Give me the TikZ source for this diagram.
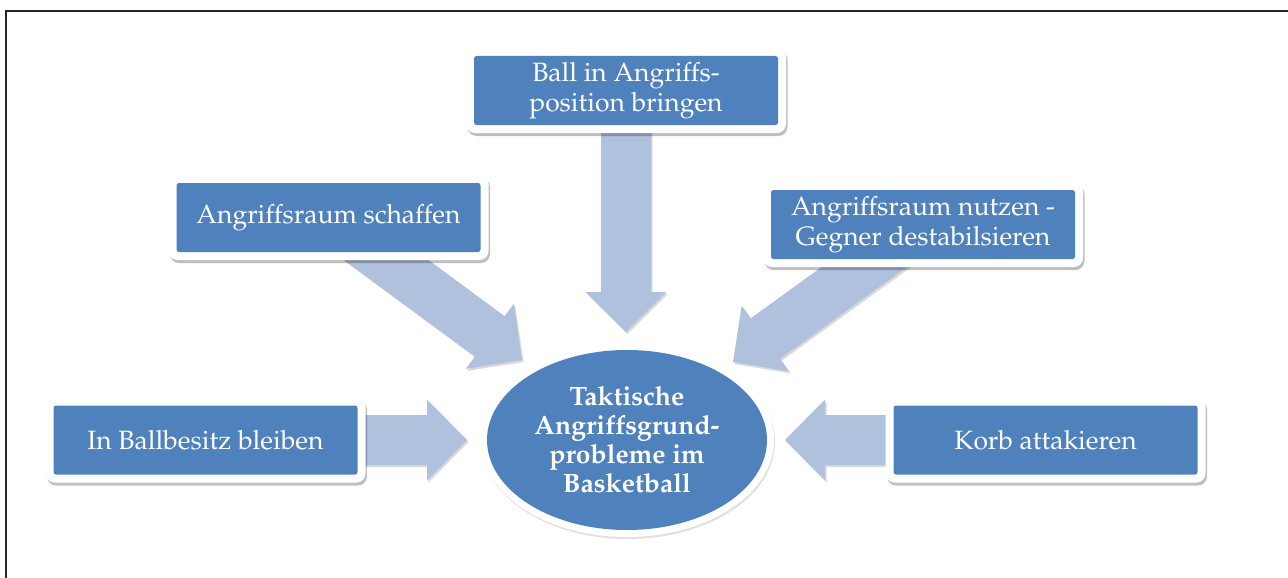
\documentclass[tikz,border=0pt]{standalone}
\usepackage[T1]{fontenc}
\usepackage{mathpazo}
\usetikzlibrary{shapes.geometric,shadows,calc,backgrounds}
\definecolor{boxblue}{RGB}{79,129,189}
\definecolor{arrowblue}{RGB}{176,193,221}
\tikzset{
  outerbox/.style={fill=white, rounded corners=9pt, minimum width=320pt, minimum height=85pt, inner sep=0pt,
    drop shadow={shadow xshift=1.5pt, shadow yshift=-3pt, opacity=0.25, fill=black}},
  bluebox/.style={fill=boxblue, rounded corners=2.5pt, minimum width=304pt, minimum height=69pt, inner sep=0pt,
    text=white, align=center, font=\fontsize{26.5}{29.5}\selectfont},
  arrowstyle/.style={fill=arrowblue, drop shadow={shadow xshift=1.5pt, shadow yshift=-2pt, opacity=0.15, fill=black}},
}
\newcommand\blockarrow[2]{%
  \coordinate (ab) at ($(#2)!40pt!(#1)$);
  \fill[arrowstyle] (#2) -- ($(ab)!40.5pt!90:(#1)$) -- ($(ab)!25pt!90:(#1)$)
    -- ($(#1)!25pt!-90:(#2)$) -- ($(#1)!25pt!90:(#2)$)
    -- ($(ab)!25pt!-90:(#1)$) -- ($(ab)!40.5pt!-90:(#1)$) -- cycle;}
\begin{document}
\begin{tikzpicture}[x=1pt,y=-1pt]
\useasboundingbox (0,0) rectangle (1288,578);
\draw[line width=2pt, black!85] (6,578) -- (6,11.5) -- (1288,11.5);

% boxes
\node[outerbox] (topO) at (626,90.5) {};
\node[bluebox] (top) at (626,90.5) {Ball in Angriffs-\\position bringen};
\node[outerbox] (lmO) at (328.5,217.5) {};
\node[bluebox] (lm) at (328.5,217.5) {Angriffsraum schaffen};
\node[outerbox] (rmO) at (923,224.5) {};
\node[bluebox] (rm) at (923,224.5) {Angriffsraum nutzen -\\Gegner destabilsieren};
\node[outerbox] (lbO) at (205.5,440) {};
\node[bluebox] (lb) at (205.5,440) {In Ballbesitz bleiben};
\node[outerbox] (rbO) at (1045.5,440) {};
\node[bluebox] (rb) at (1045.5,440) {Korb attakieren};

% centre ellipse
\node[ellipse, fill=white, minimum width=294pt, minimum height=194pt, inner sep=0pt,
  drop shadow={shadow xshift=1pt, shadow yshift=-2pt, opacity=0.12, fill=black}] (coreO) at (627,440) {};
\node[ellipse, fill=boxblue, minimum width=280pt, minimum height=180pt, inner sep=0pt,
  text=white, align=center, font=\fontsize{26.5}{29}\selectfont\bfseries] (core) at (627,440)
  {Taktische\\Angriffsgrund-\\probleme im\\Basketball};

% arrow tips
\coordinate (tTop) at (626,332);
\coordinate (tLm) at (522,360);
\coordinate (tRm) at (733,362);
\coordinate (tLb) at (467,440);
\coordinate (tRb) at (785,440);

\begin{scope}[on background layer]
  \blockarrow{top}{tTop}
  \blockarrow{lm}{tLm}
  \blockarrow{rm}{tRm}
  \blockarrow{lb}{tLb}
  \blockarrow{rb}{tRb}
\end{scope}
\end{tikzpicture}
\end{document}
